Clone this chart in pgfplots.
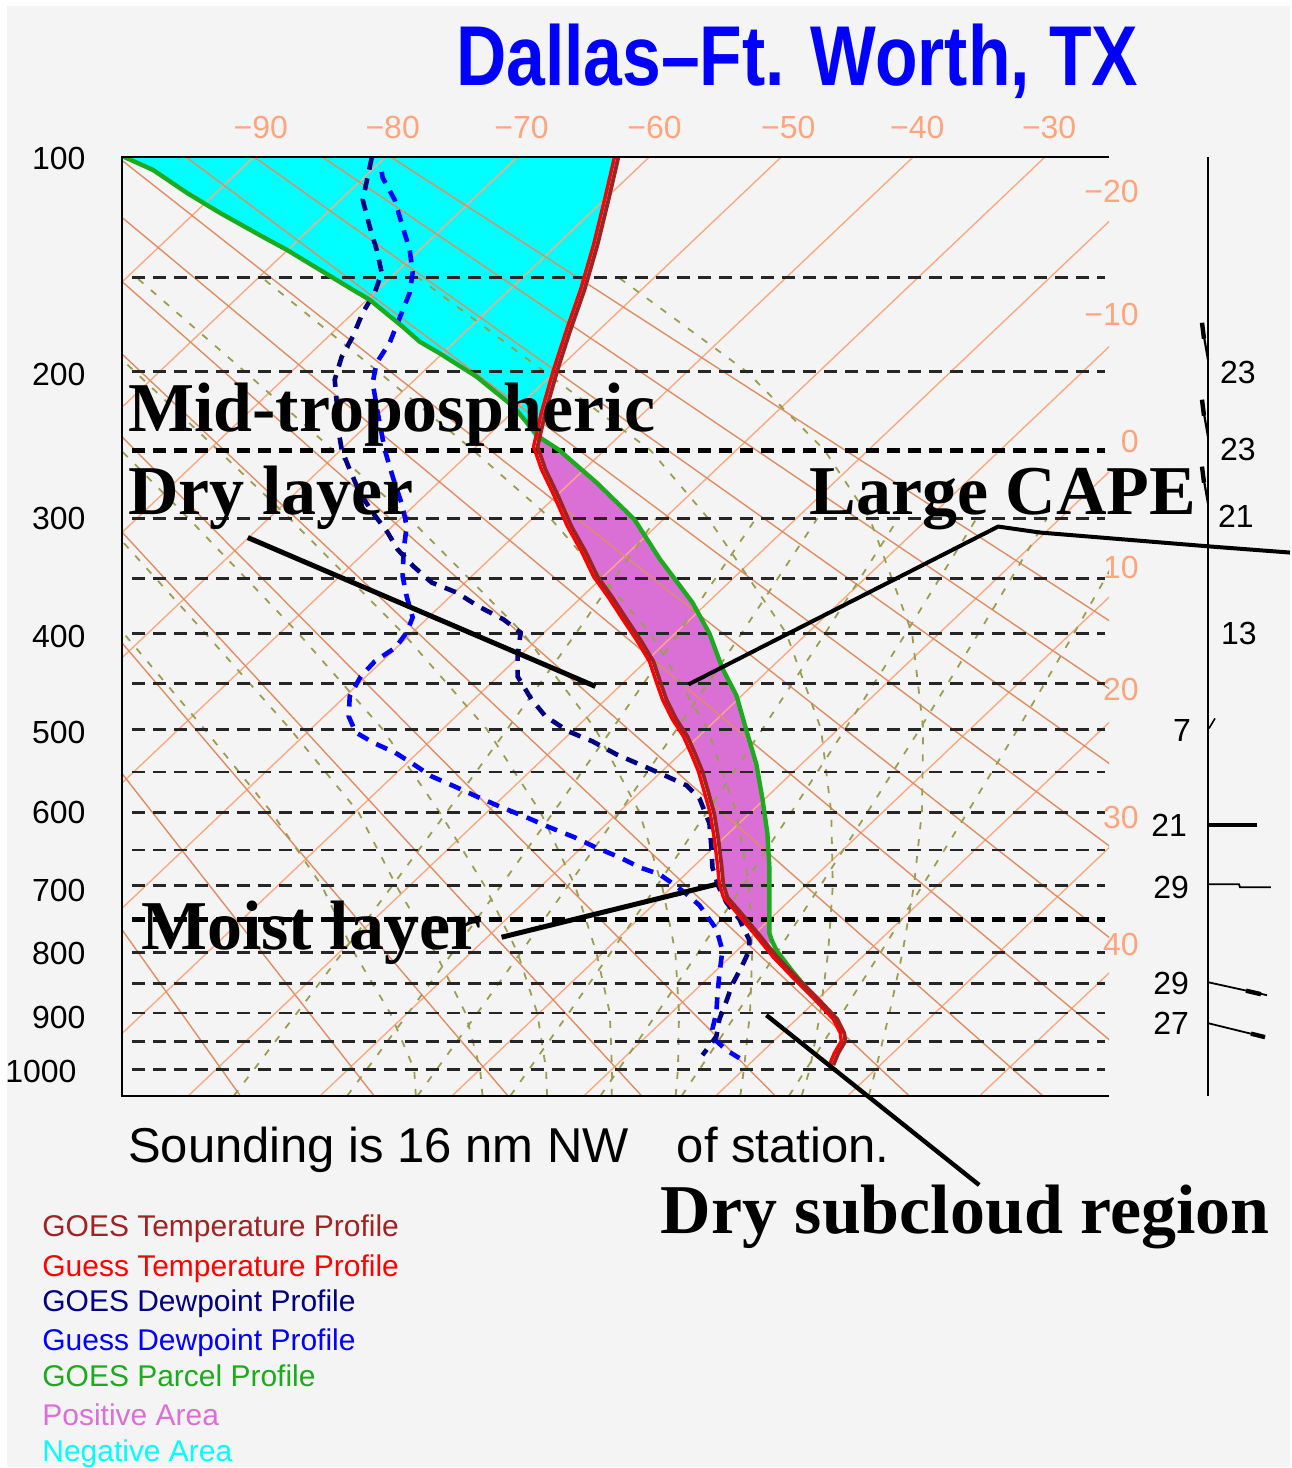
\documentclass[border=0pt]{standalone}
\usepackage{pgfplots}
\pgfplotsset{compat=1.18}
\usepackage{fontspec}
\setmainfont{Liberation Sans}
\newfontfamily\annofont{Liberation Serif}
\usepackage{graphicx}
\definecolor{bgc}{RGB}{244,244,244}
\definecolor{iso}{RGB}{250,170,130}
\definecolor{adi}{RGB}{222,142,100}
\definecolor{moist}{RGB}{155,158,82}
\definecolor{goest}{RGB}{160,35,35}
\definecolor{guesst}{RGB}{255,0,0}
\definecolor{goestd}{RGB}{0,0,128}
\definecolor{guesstd}{RGB}{0,0,255}
\definecolor{parcel}{RGB}{30,170,30}
\definecolor{posa}{RGB}{218,112,214}
\definecolor{nega}{RGB}{0,255,255}
\definecolor{lbl}{RGB}{255,165,125}
\definecolor{ttl}{RGB}{0,0,255}
\newcommand{\smallf}{\fontsize{16}{16}\selectfont}
\newcommand{\annof}{\fontsize{35}{35}\selectfont\annofont\bfseries}
\newcommand{\legf}{\fontsize{15}{15}\selectfont}
\tikzset{
  pl/.style={anchor=east, inner sep=0},
  tl/.style={anchor=center, inner sep=0, text=lbl},
  rl/.style={anchor=east, inner sep=0, text=lbl},
  wl/.style={anchor=center, inner sep=0},
  lg/.style={anchor=base west, inner sep=0},
}
\begin{document}
\begin{tikzpicture}
\begin{axis}[
  x=0.5pt, y=0.5pt, y dir=reverse,
  xmin=122, xmax=1110, ymin=157, ymax=1097,
  hide axis, clip mode=individual,
  unbounded coords=jump,
]
% background
\fill[white] (axis cs:0,0) rectangle (axis cs:1291,1468);
\fill[bgc] (axis cs:7,6) rectangle (axis cs:1291,1468);

% negative area
\addplot[fill=nega, draw=none] coordinates {
(124,157) (618,157) (608,200) (597,245) (584,290) (570,330) (557,370) (545,412) (538,442)
(514,407) (477,377) (439,353) (420,342) (403,327) (370,300) (353,290) (320,270) (287,250)
(263,237) (220,213) (187,193) (153,170) (124,157)};
% positive area
\addplot[fill=posa, draw=none] coordinates {
(538,442) (545,470) (557,495) (571,527) (585,552) (597,577) (612,598) (627,621) (641,642)
(653,662) (660,683) (666,700) (676,720) (687,737) (695,755) (702,772) (708,793) (714,815)
(718,840) (721,865) (723,885) (727,898) (740,913) (760,937) (772,945)
(770,934) (770,903) (770,868) (768,834) (763,799) (757,765) (747,731) (737,696) (723,669)
(710,634) (693,603) (660,559) (635,520) (597,483) (559,450) (539,437)};

% isotherms
\addplot[iso, line width=0.7pt] table {
x y
254 157
-735.8 1097
nan nan
386 157
-603.8 1097
nan nan
518 157
-471.8 1097
nan nan
650 157
-339.8 1097
nan nan
782 157
-207.8 1097
nan nan
914 157
-75.8 1097
nan nan
1046 157
56.2 1097
nan nan
1178 157
188.2 1097
nan nan
1310 157
320.2 1097
nan nan
1442 157
452.2 1097
nan nan
1574 157
584.2 1097
nan nan
1706 157
716.2 1097
nan nan
1838 157
848.2 1097
nan nan
1970 157
980.2 1097
};
% dry adiabats
\addplot[adi, line width=0.7pt] table {
x y
-429 157
240.7 1097
nan nan
-360.6 157
374.6 1097
nan nan
-292.3 157
508.5 1097
nan nan
-224 157
642.4 1097
nan nan
-155.7 157
776.2 1097
nan nan
-87.3 157
910.1 1097
nan nan
-19 157
1044 1097
nan nan
49.3 157
1177.9 1097
nan nan
117.6 157
1311.8 1097
nan nan
186 157
1445.6 1097
nan nan
254.3 157
1579.5 1097
nan nan
322.6 157
1713.4 1097
nan nan
391 157
1847.3 1097
};
% moist adiabats
\addplot[moist, line width=0.9pt, dash pattern=on 3.5pt off 5pt] table {
x y
869.6 1096.7
876.5 1070.1
890.2 1013.9
903.3 953.1
914.7 886.5
922.6 812.8
924.0 729.7
912.8 633.7
870.4 518.7
825.2 450.6
747.2 371.8
618.8 277.5
nan nan
802.3 1096.7
810.5 1070.1
820.9 1013.9
828.8 953.1
833.5 886.5
831.9 812.8
821.7 729.7
786.9 633.7
708.7 518.7
651.0 450.6
544.6 371.8
418.1 277.5
nan nan
740.9 1096.7
744.5 1070.1
750.6 1013.9
752.9 953.1
749.7 886.5
736.9 812.8
708.2 729.7
650.9 633.7
550.9 518.7
473.5 450.6
378.3 371.8
261.7 277.5
nan nan
676.2 1096.7
678.5 1070.1
679.6 1013.9
675.9 953.1
662.6 886.5
639.9 812.8
596.0 729.7
523.5 633.7
409.7 518.7
333.5 450.6
244.9 371.8
136.3 277.5
nan nan
612.2 1096.7
612.5 1070.1
610.3 1013.9
596.8 953.1
575.5 886.5
540.9 812.8
487.1 729.7
403.4 633.7
289.6 518.7
218.3 450.6
134.8 371.8
35 277.5
nan nan
547.5 1096.7
546.5 1070.1
537.7 1013.9
517.9 953.1
485.0 886.5
439.9 812.8
382.8 729.7
298.5 633.7
188.6 518.7
121 450.6
43.6 371.8
nan nan
482.9 1096.7
480.5 1070.1
465.8 1013.9
435.4 953.1
396.6 886.5
358.7 812.8
290.4 729.7
205.4 633.7
101.5 518.7
nan nan
416.2 1096.7
414.5 1070.1
390.5 1013.9
354.2 953.1
322.0 886.5
271.6 812.8
204.6 729.7
123.6 633.7
26 518.7
};
% mixing ratio lines
\addplot[moist, line width=0.9pt, dash pattern=on 3.5pt off 5pt] table {
x y
234.0 1096.7
254.4 1070.1
297.1 1013.9
342.9 953.1
392.6 886.5
447.1 812.8
507.7 729.7
576.5 633.7
656.9 518.7
nan nan
347.5 1096.7
367.2 1070.1
408.7 1013.9
453.1 953.1
501.3 886.5
553.9 812.8
612.5 729.7
679.0 633.7
756.6 518.7
nan nan
417.8 1096.7
437.2 1070.1
477.8 1013.9
521.3 953.1
568.5 886.5
620.1 812.8
677.4 729.7
742.3 633.7
818.1 518.7
nan nan
510.8 1096.7
529.6 1070.1
569.2 1013.9
611.5 953.1
657.4 886.5
707.5 812.8
763.0 729.7
825.9 633.7
899.1 518.7
nan nan
601.0 1096.7
619.2 1070.1
657.7 1013.9
698.9 953.1
743.4 886.5
792.0 812.8
845.9 729.7
906.7 633.7
977.4 518.7
nan nan
682.3 1096.7
700.1 1070.1
737.6 1013.9
777.7 953.1
821.0 886.5
868.2 812.8
920.5 729.7
979.4 633.7
1047.8 518.7
nan nan
789.6 1096.7
806.8 1070.1
842.9 1013.9
881.4 953.1
923.1 886.5
968.4 812.8
1018.6 729.7
1075.0 633.7
1140.3 518.7
};
% pressure lines
\addplot[black!85, line width=1.4pt, dash pattern=on 6.5pt off 4pt] table {
x y
132 277.5
1106 277.5
nan nan
132 371.8
1106 371.8
nan nan
132 518.7
1106 518.7
nan nan
132 579.2
1106 579.2
nan nan
132 633.7
1106 633.7
nan nan
132 683.8
1106 683.8
nan nan
132 729.7
1106 729.7
nan nan
132 772.6
1106 772.6
nan nan
132 812.8
1106 812.8
nan nan
132 850.7
1106 850.7
nan nan
132 886.5
1106 886.5
nan nan
132 953.1
1106 953.1
nan nan
132 984.1
1106 984.1
nan nan
132 1013.9
1106 1013.9
nan nan
132 1042.5
1106 1042.5
nan nan
132 1070.1
1106 1070.1
};
\addplot[black, line width=2.4pt, dash pattern=on 6.5pt off 4pt] table {
x y
132 450.6
1106 450.6
nan nan
132 920.6
1106 920.6
};

% dewpoints
\addplot[guesstd, line width=2.3pt, dash pattern=on 6pt off 4.5pt] coordinates {
(382,172) (383,178) (395,200) (403,227) (410,250) (413,273) (410,293) (400,318) (390,343)
(377,363) (373,383) (378,413) (385,450) (393,477) (403,507) (407,527) (404,550) (403,577)
(407,597) (413,618) (407,633) (396,648) (375,662) (361,677) (350,697) (349,717) (356,733)
(375,744) (395,753) (411,763) (432,777) (457,788) (479,798) (502,808) (527,818) (550,828)
(575,838) (596,848) (620,858) (640,868) (660,875) (670,882) (685,893) (700,906) (717,930)
(723,951) (720,975) (718,996) (717,1013) (713,1030) (715,1040) (727,1051) (740,1059)};
\addplot[goestd, line width=2.3pt, dash pattern=on 6pt off 4.5pt] coordinates {
(372,158) (368,177) (363,200) (370,227) (377,250) (382,273) (375,293) (363,313) (353,337)
(342,357) (335,380) (337,403) (338,427) (342,450) (350,470) (360,493) (373,513) (388,533)
(398,550) (414,567) (432,583) (457,593) (479,607) (504,620) (521,633) (518,657) (518,677)
(532,700) (546,717) (569,732) (593,742) (617,755) (640,765) (663,775) (687,786) (700,799)
(710,824) (712,848) (713,868) (719,887) (727,903) (740,920) (750,941) (750,951) (742,968)
(733,985) (727,1002) (720,1020) (717,1037) (710,1047) (703,1056)};

% parcel
\addplot[parcel, line width=2.2pt] coordinates {
(843,1031) (830,1013) (813,996) (793,972) (777,951) (772,940) (770,934) (770,903) (770,868)
(768,834) (763,799) (757,765) (747,731) (737,696) (723,669) (710,634) (693,603) (660,559)
(635,520) (597,483) (559,450) (539,437) (514,407) (477,377) (439,353) (420,342) (403,327)
(370,300) (353,290) (320,270) (287,250) (263,237) (220,213) (187,193) (153,170) (124,157)};

% temperatures
\addplot[guesst, line width=1.7pt] coordinates {
(615,157) (605,200) (594,245) (581,290) (567,330) (554,370) (542,412) (534,447) (542,470)
(554,495) (568,527) (582,552) (594,577) (609,598) (624,621) (638,642) (650,662) (657,683)
(663,700) (673,720) (684,737) (692,755) (699,772) (705,793) (711,815) (715,840) (718,865)
(720,885) (724,898) (737,913) (757,937) (774,958) (797,982) (817,1002) (834,1020) (841,1034)
(842,1042) (835,1054) (830,1066)};
\addplot[goest, line width=1.9pt] coordinates {
(619,157) (609,200) (598,245) (585,290) (571,330) (558,370) (546,412) (538,447) (546,470)
(558,495) (572,527) (586,552) (598,577) (613,598) (628,621) (642,642) (654,662) (661,683)
(667,700) (677,720) (688,737) (696,755) (703,772) (709,793) (715,815) (719,840) (722,865)
(724,885) (728,898) (741,913) (761,937) (778,958) (801,982) (821,1002) (838,1020) (845,1034)
(846,1042) (839,1054) (834,1066)};

% frame
\draw[black, line width=1.35pt] (axis cs:1110,157) -- (axis cs:122,157) -- (axis cs:122,1097) -- (axis cs:1110,1097);

% pressure labels
\node[pl] at (axis cs:86,159) {\smallf 100};
\node[pl] at (axis cs:86,375) {\smallf 200};
\node[pl] at (axis cs:86,519) {\smallf 300};
\node[pl] at (axis cs:86,637) {\smallf 400};
\node[pl] at (axis cs:86,733) {\smallf 500};
\node[pl] at (axis cs:86,813) {\smallf 600};
\node[pl] at (axis cs:86,891) {\smallf 700};
\node[pl] at (axis cs:86,954) {\smallf 800};
\node[pl] at (axis cs:86,1018) {\smallf 900};
\node[pl] at (axis cs:77,1072) {\smallf 1000};

% temperature labels
\node[tl] at (axis cs:261,128) {\smallf −90};
\node[tl] at (axis cs:393,128) {\smallf −80};
\node[tl] at (axis cs:522,128) {\smallf −70};
\node[tl] at (axis cs:655,128) {\smallf −60};
\node[tl] at (axis cs:789,128) {\smallf −50};
\node[tl] at (axis cs:918,128) {\smallf −40};
\node[tl] at (axis cs:1050,128) {\smallf −30};
\node[rl] at (axis cs:1140,192) {\smallf −20};
\node[rl] at (axis cs:1140,315) {\smallf −10};
\node[rl] at (axis cs:1140,442) {\smallf 0};
\node[rl] at (axis cs:1140,568) {\smallf 10};
\node[rl] at (axis cs:1140,690) {\smallf 20};
\node[rl] at (axis cs:1140,818) {\smallf 30};
\node[rl] at (axis cs:1140,945) {\smallf 40};

% wind column
\draw[black, line width=1.2pt] (axis cs:1209,157) -- (axis cs:1209,1097);
\draw[black, line width=1.1pt] (axis cs:1209,360) -- (axis cs:1205,337);
\draw[black, line width=2.2pt] (axis cs:1205,339) -- (axis cs:1203,323);
\draw[black, line width=1.1pt] (axis cs:1209,437) -- (axis cs:1205,414);
\draw[black, line width=2.2pt] (axis cs:1205,416) -- (axis cs:1203,400);
\draw[black, line width=1.1pt] (axis cs:1209,504) -- (axis cs:1205,481);
\draw[black, line width=2.2pt] (axis cs:1205,483) -- (axis cs:1203,467);
\draw[black, line width=0.8pt] (axis cs:1210,729) -- (axis cs:1216,719);
\draw[black, line width=2pt] (axis cs:1209,826) -- (axis cs:1258,826);
\draw[black, line width=0.9pt] (axis cs:1209,885) -- (axis cs:1240,885) -- (axis cs:1241,888) -- (axis cs:1272,888);
\draw[black, line width=0.9pt] (axis cs:1209,983) -- (axis cs:1268,996);
\draw[black, line width=2.2pt] (axis cs:1247,991.5) -- (axis cs:1262,995);
\draw[black, line width=0.9pt] (axis cs:1209,1024) -- (axis cs:1266,1038);
\draw[black, line width=2.2pt] (axis cs:1252,1034.5) -- (axis cs:1266,1038);
\node[wl] at (axis cs:1239,373) {\smallf 23};
\node[wl] at (axis cs:1239,450) {\smallf 23};
\node[wl] at (axis cs:1237,517) {\smallf 21};
\node[wl] at (axis cs:1240,634) {\smallf 13};
\node[wl] at (axis cs:1183,731) {\smallf 7};
\node[wl] at (axis cs:1170,826) {\smallf 21};
\node[wl] at (axis cs:1172,888) {\smallf 29};
\node[wl] at (axis cs:1172,984) {\smallf 29};
\node[wl] at (axis cs:1172,1024) {\smallf 27};

% title
\node[lg, text=ttl] at (axis cs:456,86)
  {\scalebox{0.82}[1]{\fontsize{42.5}{42.5}\selectfont\bfseries Dallas–Ft. Worth, TX}};

% bottom text
\node[lg] at (axis cs:128,1163) {\fontsize{24.5}{24.5}\selectfont Sounding is 16 nm NW};
\node[lg] at (axis cs:677,1163) {\fontsize{24.5}{24.5}\selectfont of station.};

% legend
\node[lg, text=goest] at (axis cs:42,1238) {\legf GOES Temperature Profile};
\node[lg, text=guesst] at (axis cs:42,1278) {\legf Guess Temperature Profile};
\node[lg, text=goestd] at (axis cs:42,1313) {\legf GOES Dewpoint Profile};
\node[lg, text=guesstd] at (axis cs:42,1352) {\legf Guess Dewpoint Profile};
\node[lg, text=parcel] at (axis cs:42,1388) {\legf GOES Parcel Profile};
\node[lg, text=posa] at (axis cs:42,1427) {\legf Positive Area};
\node[lg, text=nega] at (axis cs:42,1463) {\legf Negative Area};

% annotations
\draw[black, line width=2.5pt] (axis cs:248,538) -- (axis cs:596,687);
\draw[black, line width=2pt] (axis cs:689,685) -- (axis cs:999,527) -- (axis cs:1041,533) -- (axis cs:1212,547) -- (axis cs:1291,553);
\draw[black, line width=2.5pt] (axis cs:502,938) -- (axis cs:717,885);
\draw[black, line width=2.2pt] (axis cs:767,1016) -- (axis cs:980,1186);
\node[lg] at (axis cs:128,432) {\annof Mid-tropospheric};
\node[lg] at (axis cs:128,515) {\annof Dry layer};
\node[lg] at (axis cs:810,515) {\annof Large CAPE};
\node[lg] at (axis cs:141,950) {\annof Moist layer};
\node[lg] at (axis cs:661,1235) {\annof Dry subcloud region};
\end{axis}
\end{tikzpicture}
\end{document}
